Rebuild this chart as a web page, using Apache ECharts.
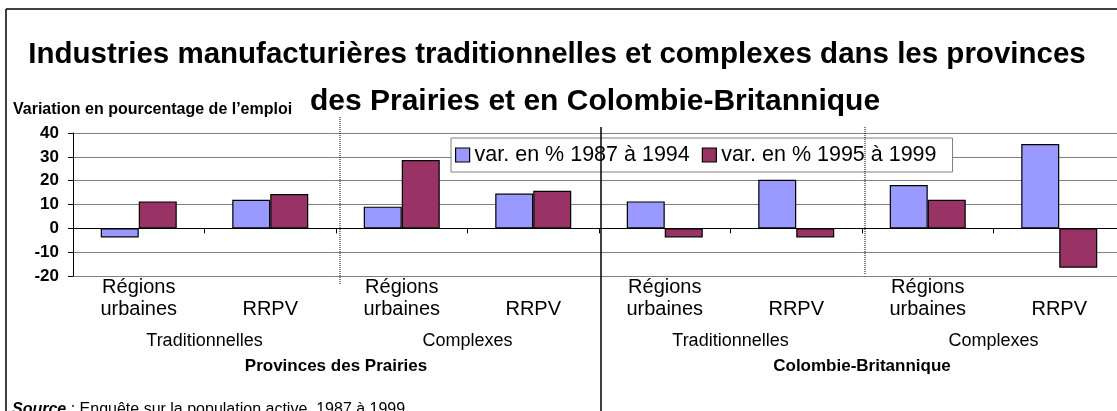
<!DOCTYPE html>
<html lang="fr">
<head>
<meta charset="utf-8">
<script src="https://cdn.jsdelivr.net/npm/echarts@6/dist/echarts.min.js"></script>
</head>
<body style="margin: 0; background: #fff">
<div id="main" style="width: 1117px; height: 411px"></div>
<script>
// categories, two per industry group, four per region
var categories = ['Régions\nurbaines', '\nRRPV', 'Régions\nurbaines', '\nRRPV',
                  'Régions\nurbaines', '\nRRPV', 'Régions\nurbaines', '\nRRPV'];
var industries = ['Traditionnelles', 'Complexes', 'Traditionnelles', 'Complexes'];
var regions = ['Provinces des Prairies', 'Colombie-Britannique'];
var seriesNames = ['var. en % 1987 à 1994', 'var. en % 1995 à 1999'];
var var8794 = [-3.8, 12.0, 9.1, 14.6, 11.3, 20.4, 18.2, 35.4];
var var9599 = [11.3, 14.4, 28.7, 15.8, -3.8, -3.8, 12.0, -16.5];
var yTicks = { min: -20, max: 40, interval: 10 };

var FONT = '"Liberation Sans", Arial, sans-serif';

var dom = document.getElementById('main');
var myChart = echarts.init(dom, null, { renderer: 'canvas' });

function labelAxis(data, margin, style) {
  return {
    type: 'category',
    data: data,
    position: 'bottom',
    axisLine: { show: false, onZero: false },
    axisTick: { show: false },
    axisLabel: Object.assign({ interval: 0, margin: margin, color: '#000', fontFamily: FONT }, style)
  };
}

var option = {
  animation: false,
  backgroundColor: '#fff',
  // plot runs past the right edge of the picture, as in the original
  grid: { left: 73, width: 1052, top: 133, bottom: 135, containLabel: false, outerBoundsMode: 'none' },
  legend: {
    left: 451,
    top: 138,
    icon: 'rect',
    itemWidth: 14,
    itemHeight: 14,
    itemGap: 12,
    padding: [5, 16, 5, 4],
    backgroundColor: '#fff',
    borderColor: '#808080',
    borderWidth: 1,
    borderRadius: 0,
    itemStyle: { borderColor: '#000', borderWidth: 1.2 },
    textStyle: { fontSize: 21.5, color: '#000', fontFamily: FONT, lineHeight: 24 },
    data: seriesNames
  },
  xAxis: [
    {
      type: 'category',
      data: categories,
      position: 'bottom',
      axisLine: { show: true, onZero: true, lineStyle: { color: '#000', width: 1 } },
      axisTick: { show: true, length: 5, lineStyle: { color: '#000' } },
      axisLabel: { show: false },
      z: 5
    },
    labelAxis(categories, 0, { fontSize: 20, lineHeight: 22 }),
    labelAxis(industries, 56, { fontSize: 18 }),
    labelAxis(regions, 82, { fontSize: 17, fontWeight: 'bold' })
  ],
  yAxis: {
    type: 'value',
    min: yTicks.min,
    max: yTicks.max,
    interval: yTicks.interval,
    axisLine: { show: true, lineStyle: { color: '#000', width: 1 } },
    axisTick: { show: true, length: 5, lineStyle: { color: '#000' } },
    axisLabel: { fontSize: 17, fontWeight: 'bold', color: '#000', margin: 14, fontFamily: FONT },
    splitLine: { show: true, lineStyle: { color: '#808080', width: 1 } }
  },
  series: [
    {
      name: seriesNames[0],
      type: 'bar',
      data: var8794,
      barWidth: 38,
      barGap: '0%',
      itemStyle: { color: '#9999FF', borderColor: '#000', borderWidth: 1.2 }
    },
    {
      name: seriesNames[1],
      type: 'bar',
      data: var9599,
      barWidth: 38,
      barGap: '0%',
      itemStyle: { color: '#993366', borderColor: '#000', borderWidth: 1.2 }
    }
  ],
  graphic: [
    { type: 'line', shape: { x1: 6, y1: 9, x2: 6, y2: 411 }, style: { stroke: '#000', lineWidth: 1.5 } },
    { type: 'line', shape: { x1: 6, y1: 9, x2: 1117, y2: 9 }, style: { stroke: '#000', lineWidth: 1.5 } },
    {
      type: 'text', x: 557, y: 70,
      style: { text: 'Industries manufacturières traditionnelles et complexes dans les provinces',
        font: 'bold 29.5px ' + FONT, fill: '#000', textAlign: 'center', textVerticalAlign: 'bottom' }
    },
    {
      type: 'text', x: 595, y: 117,
      style: { text: 'des Prairies et en Colombie-Britannique',
        font: 'bold 30px ' + FONT, fill: '#000', textAlign: 'center', textVerticalAlign: 'bottom' }
    },
    {
      type: 'text', x: 13, y: 118,
      style: { text: 'Variation en pourcentage de l’emploi',
        font: 'bold 16px ' + FONT, fill: '#000', textAlign: 'left', textVerticalAlign: 'bottom' }
    },
    {
      type: 'text', x: 12, y: 402,
      style: {
        text: '{b|Source} : Enquête sur la population active, 1987 à 1999.',
        font: '16px ' + FONT, fill: '#000',
        rich: { b: { fontWeight: 'bold', fontStyle: 'italic', fontSize: 16, fontFamily: FONT } }
      }
    }
  ]
};

myChart.setOption(option);

// separators between groups, placed on the category boundaries
function boundary(i) {
  var a = myChart.convertToPixel({ xAxisIndex: 0 }, i);
  var b = myChart.convertToPixel({ xAxisIndex: 0 }, i + 1);
  return (a + b) / 2;
}
var xDot1 = boundary(1) + 4;
var xSolid = boundary(3) + 2;
var xDot2 = boundary(5) + 3;

myChart.setOption({
  graphic: option.graphic.concat([
    { type: 'line', z: 10, shape: { x1: xDot1, y1: 117, x2: xDot1, y2: 285 }, style: { stroke: '#000', lineWidth: 1, lineDash: [1, 1] } },
    { type: 'line', z: 10, shape: { x1: xDot2, y1: 127, x2: xDot2, y2: 275 }, style: { stroke: '#000', lineWidth: 1, lineDash: [1, 1] } },
    { type: 'line', z: 100, shape: { x1: xSolid, y1: 127, x2: xSolid, y2: 411 }, style: { stroke: '#000', lineWidth: 1.5 } }
  ])
});

window.addEventListener('resize', myChart.resize);
</script>
</body>
</html>
